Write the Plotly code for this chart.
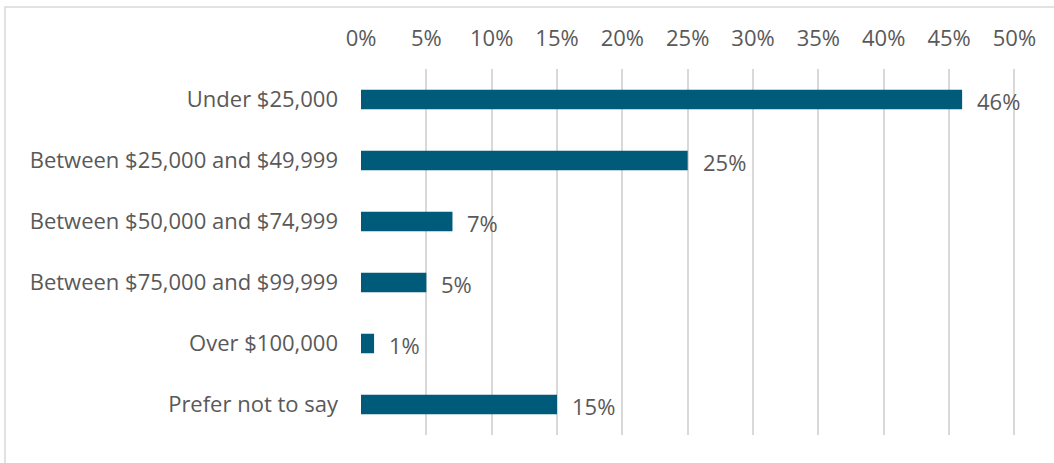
import plotly.graph_objects as go

# Household income distribution of respondents
categories = [
    "Under $25,000",
    "Between $25,000 and $49,999",
    "Between $50,000 and $74,999",
    "Between $75,000 and $99,999",
    "Over $100,000",
    "Prefer not to say",
]
shares = [46, 25, 7, 5, 1, 15]
tick_values = [0, 5, 10, 15, 20, 25, 30, 35, 40, 45, 50]
tick_labels = [f"{v}%" for v in tick_values]

BAR_COLOR = "#005A7A"
TEXT_COLOR = "#595959"
GRID_COLOR = "#D9D9D9"
FONT = "Open Sans"
FS = 22

W, H = 1054, 463
ML, MR, MT, MB = 361, 37, 69, 28
PW, PH = W - ML - MR, H - MT - MB

fig = go.Figure(
    go.Bar(
        x=shares,
        y=categories,
        orientation="h",
        marker=dict(color=BAR_COLOR, line=dict(width=0)),
        hoverinfo="skip",
    )
)

# value labels to the right of each bar
for cat, val in zip(categories, shares):
    fig.add_annotation(
        x=val, y=cat, text=f"{val}%", showarrow=False,
        xanchor="left", xshift=13, yshift=-1,
        font=dict(family=FONT, size=FS, color=TEXT_COLOR),
    )

# chart frame
def px_to_paper_x(px):
    return (px - ML) / PW

def px_to_paper_y(py):
    return (H - MB - py) / PH

fig.add_shape(
    type="rect", xref="paper", yref="paper",
    x0=px_to_paper_x(5), x1=px_to_paper_x(W + 10),
    y0=px_to_paper_y(H + 10), y1=px_to_paper_y(7),
    line=dict(color=GRID_COLOR, width=1.5), layer="below",
)

fig.update_layout(
    width=W, height=H,
    margin=dict(l=ML, r=MR, t=MT, b=MB, pad=0),
    plot_bgcolor="white", paper_bgcolor="white",
    bargap=0.68,
    showlegend=False,
    font=dict(family=FONT, size=FS, color=TEXT_COLOR),
    xaxis=dict(
        side="top", range=[0, 50.2], tickvals=tick_values, ticktext=tick_labels,
        showgrid=True, gridcolor=GRID_COLOR, gridwidth=1.5,
        zeroline=False, showline=False, ticks="",
        ticklabelstandoff=18,
        tickfont=dict(family=FONT, size=FS, color=TEXT_COLOR),
        fixedrange=True,
    ),
    yaxis=dict(
        autorange="reversed", showgrid=False, zeroline=False, showline=False,
        ticks="", ticklabelstandoff=22,
        tickfont=dict(family=FONT, size=FS, color=TEXT_COLOR),
        fixedrange=True,
    ),
)

fig.write_html("out.html")
